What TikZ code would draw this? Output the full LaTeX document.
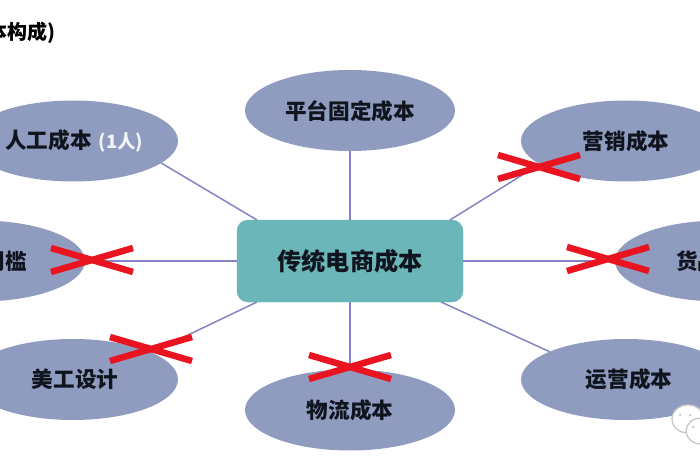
\documentclass[tikz,border=0pt]{standalone}
\usepackage{fontspec}
\setmainfont{Noto Sans CJK SC}
\usetikzlibrary{shapes.geometric}
\definecolor{ovalfill}{HTML}{8F9CBF}
\definecolor{boxfill}{HTML}{6BB6B8}
\definecolor{linkcol}{HTML}{8484C4}
\definecolor{crossred}{HTML}{EA1420}
\definecolor{inkcol}{HTML}{10141F}
\definecolor{logogray}{HTML}{C8C8C2}
\tikzset{
  oval/.style={ellipse,fill=ovalfill,minimum width=210pt,minimum height=81pt,inner sep=0pt,outer sep=0pt},
  hub/.style={rounded corners=11pt,fill=boxfill,draw=boxfill,minimum width=226pt,minimum height=82pt,inner sep=0pt,outer sep=0pt},
  link/.style={draw=linkcol,line width=1.5pt},
  crossbar/.style={draw=crossred,line width=6.5pt},
  lab/.style={font=\fontsize{21.6pt}{25pt}\selectfont\bfseries,text=inkcol,inner sep=0pt},
  biglab/.style={font=\fontsize{24.2pt}{29pt}\selectfont\bfseries,text=inkcol,inner sep=0pt},
  bubble/.style={ellipse,draw=logogray,fill=white,line width=1.3pt,inner sep=0pt},
  eye/.style={circle,fill=logogray,inner sep=0pt,minimum size=2.5pt}
}
\begin{document}
\begin{tikzpicture}[x=1pt,y=-1pt]
\useasboundingbox (0,0) rectangle (700,470);
\clip (0,0) rectangle (700,470);
\fill[white] (0,0) rectangle (700,470);
% shapes first, connectors over the gaps between them
\node[oval] (top) at (350,110.5) {};
\node[oval] (lt) at (73,141) {};
\node[oval] (lm) at (-20,261) {};
\node[oval] (lb) at (73,379.5) {};
\node[oval] (bot) at (350,410) {};
\node[oval] (rt) at (626,141) {};
\node[oval] (rm) at (720,261) {};
\node[oval] (rb) at (626,379.5) {};
\node[hub] (hub) at (350,261) {};
\draw[link] (top.south) -- (hub.north);
\draw[link] (lt.-14) -- ([xshift=20pt]hub.north west);
\draw[link] (lm.east) -- (hub.west);
\draw[link] (lb.19) -- ([xshift=20pt]hub.south west);
\draw[link] (bot.north) -- (hub.south);
\draw[link] (rt.195) -- ([xshift=-13pt]hub.north east);
\draw[link] (rm.west) -- (hub.east);
\draw[link] (rb.160) -- ([xshift=-22pt]hub.south east);
% labels
\node[biglab] (hubt) at (350,261) {传统电商成本};
\node[lab] (topt) at (350,111) {平台固定成本};
\node[lab,anchor=west] (ltt) at (5,141) {人工成本\hspace{7pt}{\fontsize{18.5pt}{21pt}\selectfont\color{white!88!ovalfill}(1人)}};
\node[lab,anchor=east] (lmt) at (27,261) {门槛};
\node[lab] (lbt) at (75,379) {美工设计};
\node[lab] (bott) at (350,410) {物流成本};
\node[lab] (rtt) at (626,141) {营销成本};
\node[lab,anchor=west] (rmt) at (676,261) {货品成本};
\node[lab] (rbt) at (629,379) {运营成本};
\node[font=\fontsize{20pt}{24pt}\selectfont\bfseries,text=black,anchor=east,inner sep=0pt] (title) at (56,33) {成本构成)};
% crosses
\foreach \cx/\cy in {539/167,92/260,151/349,608/259,350/367}{
  \draw[crossbar] (\cx-41,\cy-12) -- (\cx+41,\cy+12);
  \draw[crossbar] (\cx-41,\cy+12) -- (\cx+41,\cy-12);
}
% watermark
\node[bubble,minimum width=32pt,minimum height=28pt] (bub1) at (688,419) {};
\node[bubble,minimum width=30pt,minimum height=26pt] (bub2) at (701,431) {};
\node[eye] (e1) at (680,415) {};
\node[eye] (e2) at (690,415) {};
\node[eye] (e3) at (693,427) {};
\end{tikzpicture}
\end{document}
